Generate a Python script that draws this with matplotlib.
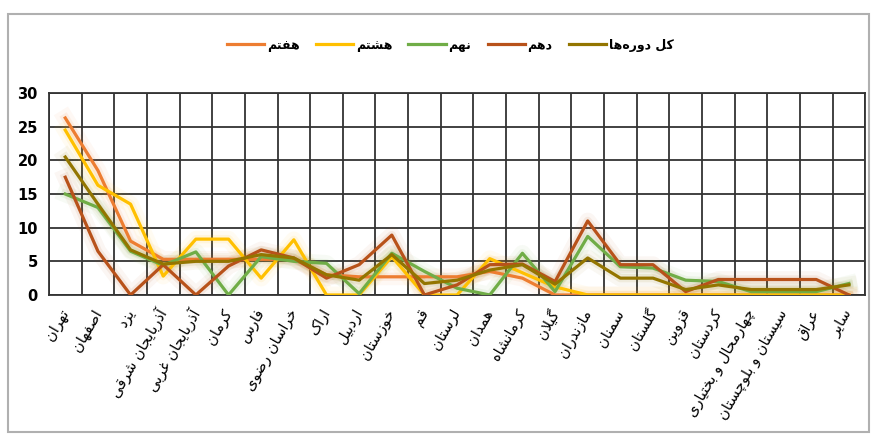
import numpy as np
import matplotlib.pyplot as plt
from matplotlib.patches import Rectangle

# provinces, left to right
cats = ['تهران', 'اصفهان', 'یزد', 'آذربایجان شرقی', 'آذربایجان غربی', 'کرمان', 'فارس',
        'خراسان رضوی', 'اراک', 'اردبیل', 'خوزستان', 'قم', 'لرستان', 'همدان', 'کرمانشاه',
        'گیلان', 'مازندران', 'سمنان', 'گلستان', 'قزوین', 'کردستان', 'چهارمحال و بختیاری',
        'سیستان و بلوچستان', 'عراق', 'سایر']

haftom = [26.3, 18.5, 8.0, 5.3, 5.3, 5.3, 5.3, 5.3, 3.0, 2.7, 2.7, 2.7, 2.7, 3.5, 2.5,
          0, 0, 0, 0, 0, 0, 0, 0, 0, 0]
hashtom = [24.5, 16.3, 13.5, 2.8, 8.3, 8.3, 2.5, 8.2, 0, 0, 5.7, 0, 0, 5.4, 3.3,
           1.2, 0, 0, 0, 0, 0, 0, 0, 0, 0]
nohom = [15.0, 13.0, 6.5, 4.4, 6.4, 0, 5.7, 5.0, 4.7, 0.2, 6.2, 3.5, 1.0, 0, 6.2,
         0.5, 8.7, 4.2, 4.0, 2.2, 2.0, 0.5, 0.5, 0.5, 1.7]
dahom = [17.5, 6.5, 0, 4.5, 0, 4.3, 6.7, 5.5, 2.5, 4.5, 8.9, 0, 1.5, 4.5, 4.6,
         2.0, 11.0, 4.5, 4.5, 0.5, 2.3, 2.3, 2.3, 2.3, 0]
kol = [20.5, 13.5, 6.7, 4.6, 5.0, 5.0, 6.0, 5.5, 3.0, 2.2, 6.0, 1.7, 2.2, 3.7, 4.5,
       1.6, 5.5, 2.5, 2.5, 0.8, 1.5, 0.8, 0.8, 0.8, 1.5]

names = ['هفتم', 'هشتم', 'نهم', 'دهم', 'کل دوره\u200cها']
colors = ['#ED7D31', '#FFC000', '#70AD47', '#B8521A', '#937500']

#%% simple persian shaping (matplotlib has no bidi / joining)
F = {
    'ا': ('\uFE8D', '\uFE8E', None, None), 'آ': ('\uFE81', '\uFE82', None, None),
    'د': ('\uFEA9', '\uFEAA', None, None), 'ذ': ('\uFEAB', '\uFEAC', None, None),
    'ر': ('\uFEAD', '\uFEAE', None, None), 'ز': ('\uFEAF', '\uFEB0', None, None),
    'و': ('\uFEED', '\uFEEE', None, None),
    'ب': ('\uFE8F', '\uFE90', '\uFE91', '\uFE92'), 'ت': ('\uFE95', '\uFE96', '\uFE97', '\uFE98'),
    'ج': ('\uFE9D', '\uFE9E', '\uFE9F', '\uFEA0'), 'ح': ('\uFEA1', '\uFEA2', '\uFEA3', '\uFEA4'),
    'خ': ('\uFEA5', '\uFEA6', '\uFEA7', '\uFEA8'), 'س': ('\uFEB1', '\uFEB2', '\uFEB3', '\uFEB4'),
    'ش': ('\uFEB5', '\uFEB6', '\uFEB7', '\uFEB8'), 'ص': ('\uFEB9', '\uFEBA', '\uFEBB', '\uFEBC'),
    'ض': ('\uFEBD', '\uFEBE', '\uFEBF', '\uFEC0'), 'ع': ('\uFEC9', '\uFECA', '\uFECB', '\uFECC'),
    'غ': ('\uFECD', '\uFECE', '\uFECF', '\uFED0'), 'ف': ('\uFED1', '\uFED2', '\uFED3', '\uFED4'),
    'ق': ('\uFED5', '\uFED6', '\uFED7', '\uFED8'), 'ل': ('\uFEDD', '\uFEDE', '\uFEDF', '\uFEE0'),
    'م': ('\uFEE1', '\uFEE2', '\uFEE3', '\uFEE4'), 'ن': ('\uFEE5', '\uFEE6', '\uFEE7', '\uFEE8'),
    'ه': ('\uFEE9', '\uFEEA', '\uFEEB', '\uFEEC'), 'ک': ('\uFB8E', '\uFB8F', '\uFB90', '\uFB91'),
    'گ': ('\uFB92', '\uFB93', '\uFB94', '\uFB95'), 'چ': ('\uFB7A', '\uFB7B', '\uFB7C', '\uFB7D'),
    'ی': ('\uFBFC', '\uFBFD', '\uFBFE', '\uFBFF'),
}

def fa(s):
    res = []
    i = 0
    while i < len(s):
        c = s[i]
        if c not in F:
            if c != '\u200c':
                res.append(c)
            i += 1
            continue
        prev = s[i-1] if i > 0 else ''
        jp = prev in F and F[prev][2] is not None
        if c == 'ل' and i + 1 < len(s) and s[i+1] == 'ا':
            res.append('\uFEFC' if jp else '\uFEFB')
            i += 2
            continue
        nxt = s[i+1] if i + 1 < len(s) else ''
        jn = F[c][2] is not None and nxt in F
        iso, fin, ini, med = F[c]
        if jp and jn:
            res.append(med)
        elif jp:
            res.append(fin)
        elif jn:
            res.append(ini)
        else:
            res.append(iso)
        i += 1
    return ''.join(reversed(res))

#%% plot
fig = plt.figure(figsize=(8.74, 4.37), dpi=100)
ax = fig.add_axes([0.056, 0.325, 0.934, 0.462])

x = np.arange(len(cats))
series = [haftom, hashtom, nohom, dahom, kol]
for y, c, nm in zip(series, colors, names):
    # soft glow around the lines
    ax.plot(x, y, color=c, lw=12, alpha=0.05, solid_joinstyle='round', zorder=2)
    ax.plot(x, y, color=c, lw=6, alpha=0.09, solid_joinstyle='round', zorder=2)
    ax.plot(x, y, color=c, lw=2.3, label=fa(nm), zorder=3)

ax.set_xlim(-0.5, len(cats) - 0.5)
ax.set_ylim(0, 30)
ax.set_yticks(range(0, 31, 5))
ax.set_xticks(x)
ax.set_xticks(np.arange(-0.5, len(cats), 1), minor=True)
ax.set_xticklabels([fa(c) for c in cats], rotation=60, ha='right', va='center',
                   rotation_mode='anchor', fontsize=10.5)
ax.tick_params(axis='x', which='both', length=0, pad=11)
ax.tick_params(axis='y', length=0, pad=8, labelsize=10.5)
for t in ax.get_yticklabels():
    t.set_fontweight('bold')

ax.grid(axis='y', color='#333333', lw=1.3, zorder=1)
ax.grid(axis='x', which='minor', color='#333333', lw=1.3, zorder=1)
ax.grid(axis='x', which='major', visible=False)
for sp in ax.spines.values():
    sp.set_color('#333333')
    sp.set_linewidth(1.3)

fig.legend(loc='center', bbox_to_anchor=(0.515, 0.897), ncol=5, frameon=False,
           prop={'size': 9, 'weight': 'bold'}, handlelength=3.0, columnspacing=1.3,
           handletextpad=0.2)

# outer chart border
fig.patches.append(Rectangle((0.009, 0.012), 0.985, 0.957, transform=fig.transFigure,
                             fill=False, edgecolor='#b0b0b0', lw=1.5))

fig.savefig('out.png', dpi=100)
